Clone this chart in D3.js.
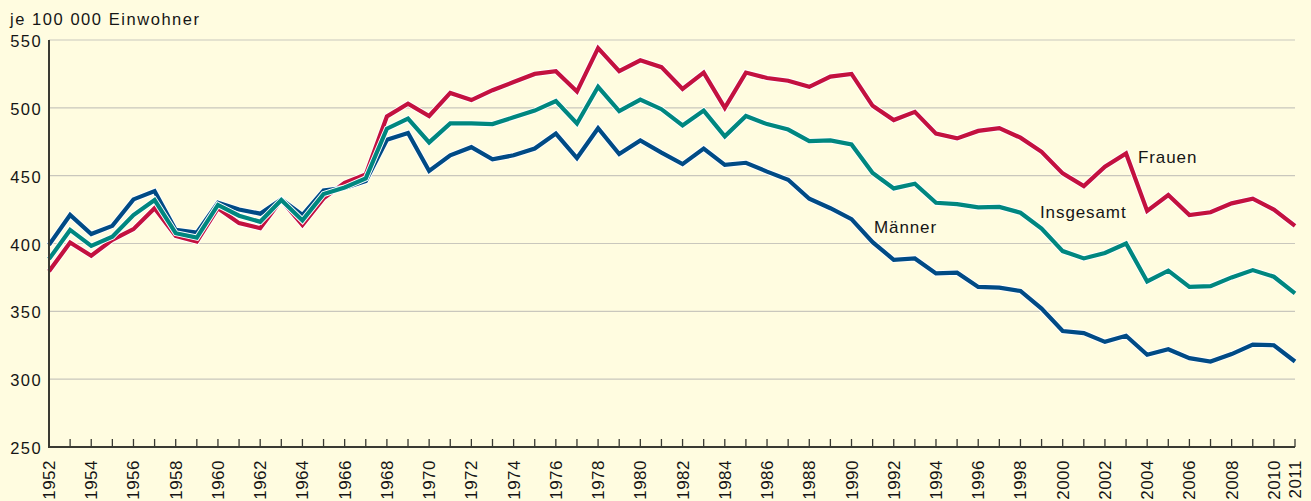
<!DOCTYPE html>
<html>
<head>
<meta charset="utf-8">
<script src="https://cdn.jsdelivr.net/npm/d3@7/dist/d3.min.js"></script>
<style>
  html, body { margin: 0; padding: 0; background: #fffce0; }
  svg { display: block; }
  text { font-family: "Liberation Sans", Arial, Helvetica, sans-serif; fill: #151515; }
</style>
</head>
<body>
<svg id="chart" width="1311" height="501"></svg>
<script>
const years = d3.range(1952, 2012);
const yTicks = [250, 300, 350, 400, 450, 500, 550];
const xLabelYears = d3.range(1952, 2011, 2).concat([2011]);

const frauen = [
  379.5, 400.7, 391, 402.7, 410.6, 426, 405.6, 401.5, 426, 415,
  411.3, 432, 413.7, 433.3, 444.7, 450.9, 493.6, 503, 494, 511,
  505.7, 513, 519, 525, 527, 512, 544, 527, 535, 530,
  514, 526, 500, 526, 522, 520, 515.5, 523, 525, 501.5,
  491, 497, 481, 477.5, 483, 485, 478, 467.6, 451.7, 442.3,
  456.6, 466.4, 424, 435.7, 421, 423, 429.6, 433, 425, 413
];
const maenner = [
  399, 421, 407, 413, 432.5, 438.6, 410, 408, 430, 425,
  422, 432.5, 421, 439, 441, 446, 476.5, 481.5, 453.5, 465,
  471, 462, 465, 470, 481, 463, 485, 466, 476, 467,
  458.5, 470, 458, 459.5, 453, 447, 433, 426, 418, 401,
  388, 389, 378, 378.5, 368, 367.5, 365, 352, 335.5, 334,
  327.5, 332, 318, 322, 315.5, 313, 318.5, 325.5, 325, 313
];
const insgesamt = [
  388.5, 410, 398.3, 405, 421, 432, 407.6, 404.4, 428.4, 420.5,
  416, 432, 417, 436.4, 441.3, 448, 484.6, 492, 474.5, 488.5,
  488.5, 488, 493, 498, 505, 488.5, 515.5, 497.6, 506, 499,
  487, 498, 479, 494, 488, 484, 475.5, 476, 473, 452,
  440.6, 444, 430, 429, 426.6, 427, 422.7, 411, 394.4, 389,
  393, 400, 372, 380, 368, 368.6, 375, 380.4, 375.5, 363.3
];

const series = [
  { name: "Frauen", values: frauen, color: "#c3113f", lx: 1138, ly: 163 },
  { name: "Männer", values: maenner, color: "#004b85", lx: 874, ly: 233 },
  { name: "Insgesamt", values: insgesamt, color: "#00877f", lx: 1040, ly: 218 }
];

const svg = d3.select("#chart");
const x = d3.scaleLinear().domain([1952, 2011]).range([49, 1295]);
const y = d3.scaleLinear().domain([250, 550]).range([447, 40]);

// background
svg.append("rect").attr("width", 1311).attr("height", 501).attr("fill", "#fffce0");

// gridlines
svg.append("g").selectAll("line").data(yTicks.filter(d => d > 250)).join("line")
  .attr("x1", x(1952)).attr("x2", x(2011))
  .attr("y1", d => y(d)).attr("y2", d => y(d))
  .attr("stroke", "#c9c7bd").attr("stroke-width", 1.2);

// y labels
svg.append("g").selectAll("text").data(yTicks).join("text")
  .attr("x", 42).attr("y", d => y(d) + 7)
  .attr("text-anchor", "end")
  .attr("font-size", 16.5).attr("letter-spacing", 1.4)
  .text(d => d);

// title
svg.append("text").attr("x", 10).attr("y", 25)
  .attr("font-size", 16.5).attr("letter-spacing", 1.55)
  .text("je 100 000 Einwohner");

// lines
const line = d3.line().x((d, i) => x(years[i])).y(d => y(d));
series.forEach(s => {
  svg.append("path").attr("d", line(s.values)).attr("fill", "none")
    .attr("stroke", "#ffffff").attr("stroke-width", 6).attr("stroke-linejoin", "miter");
  svg.append("path").attr("d", line(s.values)).attr("fill", "none")
    .attr("stroke", s.color).attr("stroke-width", 4.2).attr("stroke-linejoin", "miter");
});

// series labels
svg.append("g").selectAll("text").data(series).join("text")
  .attr("x", d => d.lx).attr("y", d => d.ly)
  .attr("font-size", 17).attr("letter-spacing", 0.9)
  .text(d => d.name);

// axes
svg.append("line").attr("x1", x(1952)).attr("x2", x(1952)).attr("y1", y(550)).attr("y2", y(250) + 1)
  .attr("stroke", "#3a3a32").attr("stroke-width", 2);
svg.append("line").attr("x1", x(1952)).attr("x2", x(2011)).attr("y1", y(250)).attr("y2", y(250))
  .attr("stroke", "#3a3a32").attr("stroke-width", 2);
svg.append("g").selectAll("line").data(years.filter(d => d > 1952)).join("line")
  .attr("x1", d => x(d)).attr("x2", d => x(d))
  .attr("y1", y(250)).attr("y2", y(250) - 8)
  .attr("stroke", "#3a3a32").attr("stroke-width", 1.3);

// x labels
svg.append("g").selectAll("text").data(xLabelYears).join("text")
  .attr("transform", d => `translate(${x(d) + 6},460) rotate(-90)`)
  .attr("text-anchor", "end")
  .attr("font-size", 17).attr("letter-spacing", 0.5)
  .text(d => d);
</script>
</body>
</html>
